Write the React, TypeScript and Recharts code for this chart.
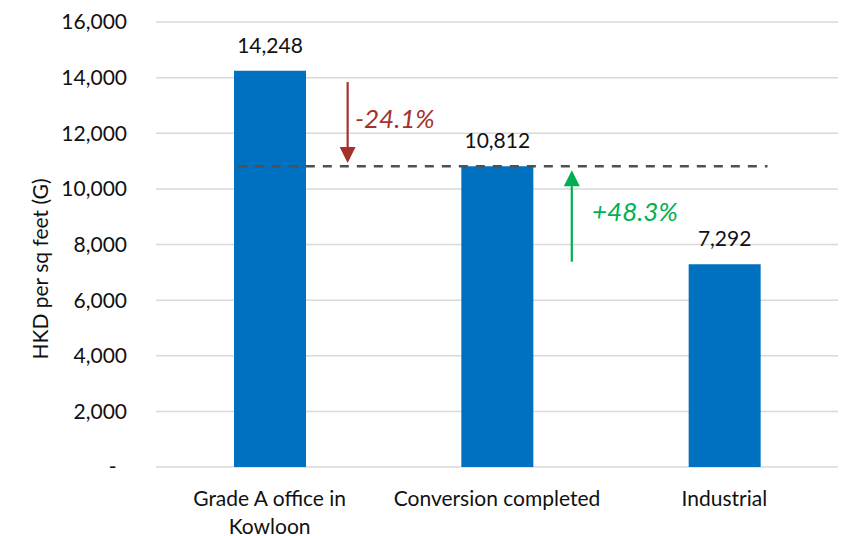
import React from 'react';
import {
  BarChart,
  Bar,
  XAxis,
  YAxis,
  CartesianGrid,
  ReferenceLine,
  ReferenceDot,
  LabelList,
} from 'recharts';

// ---- data ----
const categories = ['Grade A office in Kowloon', 'Conversion completed', 'Industrial'];
const categoryLines = [['Grade A office in', 'Kowloon'], ['Conversion completed'], ['Industrial']];
const prices = [14248, 10812, 7292];
const yTicks = [0, 2000, 4000, 6000, 8000, 10000, 12000, 14000, 16000];
const benchmark = 10812;
const benchmarkSpan = [0.36, 2.69]; // position on the annotation axis (category units, 0..3)
const changeLabels = ['-24.1%', '+48.3%'];
const changeColors = ['#A5322A', '#00B050'];
const arrowX = [0.843, 1.829];
const arrowFrom = [13840, 7380];
const arrowTo = [10930, 10670];
const changeLabelX = [0.875, 1.918];
const changeLabelY = [12200, 8840];

const data = categories.map((name, i) => ({ name, value: prices[i], pos: i + 0.5 }));

const FONT = 'Lato, "Open Sans", sans-serif';
const TEXT = '#111111';

const fmt = (v: number) => v.toLocaleString('en-US');

const YTick = (props: any) => {
  const { x, y, payload } = props;
  const v = payload.value as number;
  if (v === 0) {
    return (
      <text x={x - 10.5} y={y} dy="0.355em" textAnchor="end" fill={TEXT} fontSize={21} fontFamily={FONT}>
        -
      </text>
    );
  }
  return (
    <text x={x} y={y} dy="0.355em" textAnchor="end" fill={TEXT} fontSize={21} fontFamily={FONT}>
      {fmt(v)}
    </text>
  );
};

const XTick = (props: any) => {
  const { x, y, payload } = props;
  const idx = categories.indexOf(payload.value);
  const lines = idx >= 0 ? categoryLines[idx] : [String(payload.value)];
  return (
    <text x={x} y={y + 38.5} textAnchor="middle" fill={TEXT} fontSize={21} fontFamily={FONT}>
      {lines.map((l, i) => (
        <tspan key={i} x={x} dy={i === 0 ? 0 : 28}>
          {l}
        </tspan>
      ))}
    </text>
  );
};

const makeArrow = (color: string) => (p: any) => {
  const { x1, y1, x2, y2 } = p;
  const dir = y2 > y1 ? 1 : -1;
  const head = 16;
  const half = 8;
  const baseY = y2 - dir * head;
  return (
    <g>
      <line x1={x1} y1={y1} x2={x2} y2={baseY} stroke={color} strokeWidth={2.2} />
      <polygon points={`${x2 - half},${baseY} ${x2 + half},${baseY} ${x2},${y2}`} fill={color} />
    </g>
  );
};

const makeChangeText = (text: string, color: string) => (p: any) => (
  <text
    x={p.cx}
    y={p.cy}
    fill={color}
    fontSize={26}
    fontStyle="italic"
    fontFamily={FONT}
    textAnchor="start"
  >
    {text}
  </text>
);

export default function App() {
  return (
    <div style={{ position: 'absolute', left: 0, top: 0, background: '#fff' }}>
      <BarChart
        width={846}
        height={536}
        data={data}
        margin={{ top: 22, right: 8, bottom: 39, left: 0 }}
      >
        <CartesianGrid vertical={false} stroke="#d9d9d9" strokeWidth={1.5} />
        <XAxis
          dataKey="name"
          height={30}
          axisLine={false}
          tickLine={false}
          tickSize={0}
          tickMargin={0}
          interval={0}
          tick={<XTick />}
        />
        <XAxis
          xAxisId="ann"
          dataKey="pos"
          type="number"
          domain={[0, 3]}
          allowDataOverflow
          padding={{ left: 0, right: 0 }}
          hide
        />
        <YAxis
          width={156}
          domain={[0, 16000]}
          ticks={yTicks}
          axisLine={false}
          tickLine={false}
          tickSize={0}
          tickMargin={29}
          tick={<YTick />}
          interval={0}
          label={{
            content: () => (
              <text
                x={48}
                y={269}
                transform="rotate(-90 48 269)"
                textAnchor="middle"
                fill={TEXT}
                fontSize={21}
                fontFamily={FONT}
              >
                HKD per sq feet (G)
              </text>
            ),
          }}
        />
        <Bar dataKey="value" fill="#0070C0" barSize={72} isAnimationActive={false}>
          <LabelList
            dataKey="value"
            position="top"
            offset={18}
            formatter={(v: any) => fmt(Number(v))}
            fill={TEXT}
            fontSize={21}
            fontFamily={FONT}
          />
        </Bar>
        <ReferenceLine
          xAxisId="ann"
          segment={[
            { x: benchmarkSpan[0], y: benchmark },
            { x: benchmarkSpan[1], y: benchmark },
          ]}
          stroke="#505050"
          strokeWidth={2.5}
          strokeDasharray="9 8"
          ifOverflow="visible"
        />
        {arrowX.map((ax, i) => (
          <ReferenceLine
            key={`arrow-${i}`}
            xAxisId="ann"
            segment={[
              { x: ax, y: arrowFrom[i] },
              { x: ax, y: arrowTo[i] },
            ]}
            ifOverflow="visible"
            shape={makeArrow(changeColors[i])}
          />
        ))}
        {changeLabels.map((t, i) => (
          <ReferenceDot
            key={`lbl-${i}`}
            xAxisId="ann"
            x={changeLabelX[i]}
            y={changeLabelY[i]}
            r={0}
            ifOverflow="visible"
            shape={makeChangeText(t, changeColors[i])}
          />
        ))}
      </BarChart>
    </div>
  );
}
